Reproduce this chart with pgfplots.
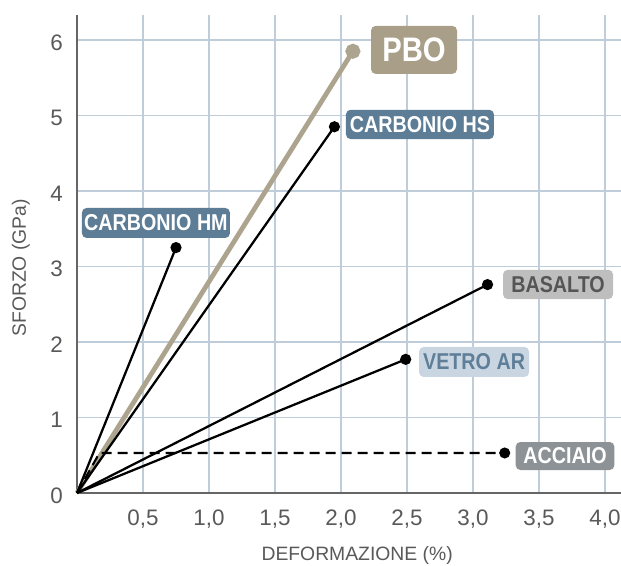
\documentclass[border=0pt]{standalone}
\usepackage{pgfplots}
\pgfplotsset{compat=1.18}
\usepackage{fontspec}
\setmainfont{Liberation Sans}
\newfontfamily\condfont[FakeStretch=0.86]{Liberation Sans}

\definecolor{gridc}{HTML}{BFCCD9}
\definecolor{axisc}{HTML}{666666}
\definecolor{textc}{HTML}{595959}
\definecolor{carbc}{HTML}{5D7D96}
\definecolor{pboc}{HTML}{A99F89}
\definecolor{pbol}{HTML}{ADA48F}
\definecolor{basc}{HTML}{BEBEBE}
\definecolor{bastxt}{HTML}{555555}
\definecolor{vetc}{HTML}{C9D6E2}
\definecolor{vettxt}{HTML}{5F7F99}
\definecolor{accc}{HTML}{8C9296}

\tikzset{
  tag/.style={rounded corners=3.5pt, text=white, inner sep=0pt, anchor=center,
    font=\condfont\bfseries\fontsize{17.2}{19}\selectfont},
}

\begin{document}
\begin{tikzpicture}
\begin{axis}[
  scale only axis,
  width=408pt, height=358.5pt,
  xmin=0, xmax=4.121, ymin=0, ymax=6.33,
  axis x line=bottom, axis y line=left,
  axis line style={-, draw=axisc, line width=2.2pt},
  xtick={0.5,1,1.5,2,2.5,3,3.5,4},
  xticklabels={{0,5},{1,0},{1,5},{2,0},{2,5},{3,0},{3,5},{4,0}},
  ytick={0,1,2,3,4,5,6},
  yticklabels={0,1,2,3,4,5,6},
  major tick length=0pt,
  grid=major,
  major grid style={draw=gridc, line width=1.4pt},
  ticklabel style={font=\fontsize{16.8}{19}\selectfont, text=textc},
  xticklabel style={anchor=north, inner sep=0pt, yshift=-12.5pt},
  yticklabel style={anchor=east, inner sep=0pt, xshift=-10.5pt, yshift=-2pt},
  xlabel={DEFORMAZIONE (\%)},
  ylabel={SFORZO (GPa)},
  label style={font=\fontsize{14.5}{17}\selectfont, text=textc},
  xlabel style={at={(axis description cs:0.515,-0.13)}, anchor=center},
  ylabel style={at={(axis description cs:-0.103,0.471)}, anchor=center},
  clip=false,
]
% PBO
\addplot[pbol, line width=3.6pt, mark=*, mark indices={2}, mark size=3.8pt,
  mark options={fill=pbol, draw=none}] coordinates {(0,0) (2.09,5.85)};
% CARBONIO HM
\addplot[black, line width=1.7pt, mark=*, mark indices={2}, mark size=3.3pt]
  coordinates {(0,0) (0.75,3.25)};
% CARBONIO HS
\addplot[black, line width=1.7pt, mark=*, mark indices={2}, mark size=3.3pt]
  coordinates {(0,0) (1.95,4.85)};
% BASALTO
\addplot[black, line width=1.7pt, mark=*, mark indices={2}, mark size=3.3pt]
  coordinates {(0,0) (3.11,2.76)};
% VETRO AR
\addplot[black, line width=1.7pt, mark=*, mark indices={2}, mark size=3.3pt]
  coordinates {(0,0) (2.49,1.77)};
% ACCIAIO
\addplot[black, line width=1.6pt, dash pattern=on 7.5pt off 4.5pt,
  mark=*, mark indices={3}, mark size=3.3pt, mark options={solid}]
  coordinates {(0,0) (0.17,0.53) (3.24,0.53)};

\node[tag, fill=pboc, minimum width=64.5pt, minimum height=36pt,
  font=\condfont\bfseries\fontsize{25.5}{27}\selectfont] at (axis cs:2.553,5.868) {PBO};
\node[tag, fill=carbc, minimum width=111pt, minimum height=22pt] at (axis cs:2.598,4.881) {CARBONIO HS};
\node[tag, fill=carbc, minimum width=111pt, minimum height=22.5pt] at (axis cs:0.598,3.576) {CARBONIO HM};
\node[tag, fill=basc, text=bastxt, minimum width=82.5pt, minimum height=22pt] at (axis cs:3.644,2.762) {BASALTO};
\node[tag, fill=vetc, text=vettxt, minimum width=82.5pt, minimum height=22.5pt] at (axis cs:3.008,1.735) {VETRO AR};
\node[tag, fill=accc, minimum width=74pt, minimum height=21pt] at (axis cs:3.697,0.490) {ACCIAIO};
\end{axis}
\pgfresetboundingbox
\path (current axis.south west) ++(-57.75pt,-54pt) rectangle ++(465.75pt,423.75pt);
\end{tikzpicture}
\end{document}
